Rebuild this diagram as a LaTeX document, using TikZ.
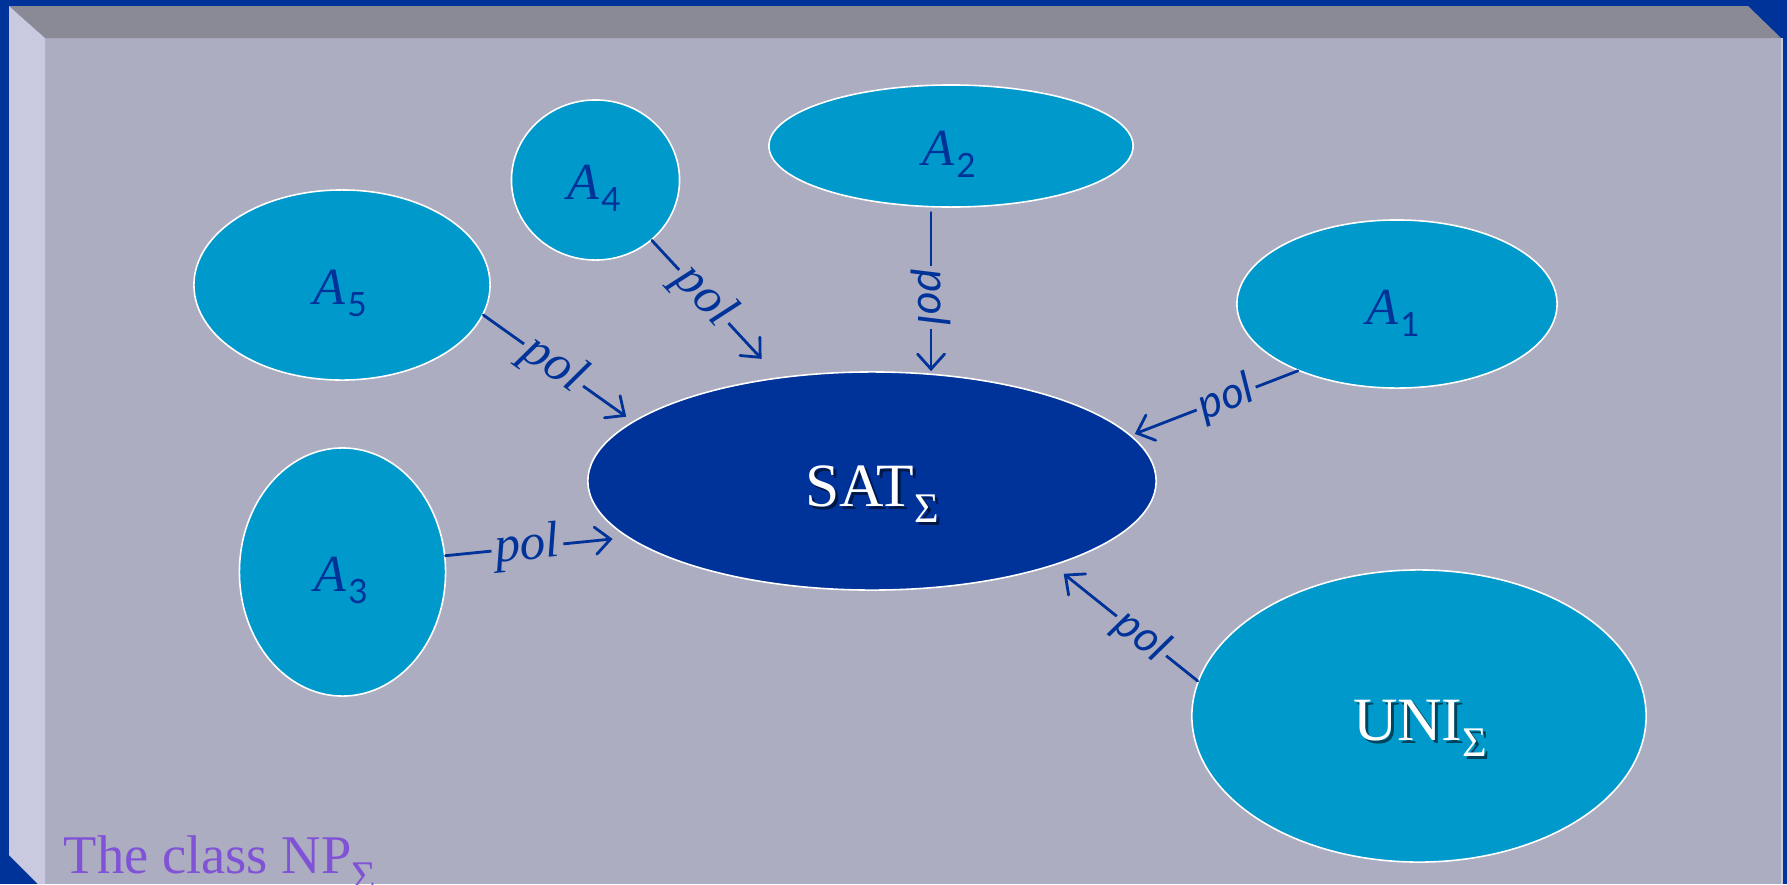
\documentclass[tikz,border=0pt]{standalone}
\usepackage{fontspec}
\setmainfont{Liberation Serif}
\newfontfamily\sansf{Lato}
\usetikzlibrary{shapes.geometric,arrows.meta}
\definecolor{bord}{RGB}{0,51,153}
\definecolor{panel}{RGB}{173,173,194}
\definecolor{topbev}{RGB}{138,137,150}
\definecolor{leftbev}{RGB}{201,201,224}
\definecolor{cyanfill}{RGB}{0,153,204}
\definecolor{satfill}{RGB}{0,51,153}
\definecolor{ink}{RGB}{0,51,153}
\definecolor{purp}{RGB}{128,82,214}
\newcommand{\Alab}[1]{{\itshape A}\kern0.6pt\raisebox{-0.12cm}{\sansf\fontsize{9.5pt}{10pt}\selectfont #1}}
\newcommand{\BigSub}[1]{#1\raisebox{-0.16cm}{\fontsize{12pt}{13pt}\selectfont Σ}}
\begin{document}
\begin{tikzpicture}[x=0.01cm,y=-0.01cm,
  ell/.style={ellipse, draw=white, line width=0.45pt, fill=cyanfill, inner sep=0pt},
  alab/.style={text=ink, inner sep=0pt, anchor=base, font=\fontsize{14.8pt}{16pt}\selectfont},
  big/.style={inner sep=0pt, anchor=base, font=\fontsize{17.5pt}{19pt}\selectfont},
  conn/.style={draw=ink, line width=0.8pt, line cap=round, -{Straight Barb[length=0.15cm,width=0.27cm,line cap=round]}},
  plab/.style={fill=panel, text=ink, inner sep=1pt, font=\fontsize{14.5pt}{16pt}\selectfont\itshape},
  plabs/.style={fill=panel, text=ink, inner sep=1pt, font=\sansf\itshape\fontsize{12.5pt}{14pt}\selectfont}
]
\useasboundingbox (0,0) rectangle (1787,884);
% frame
\fill[bord] (0,0) rectangle (1787,884);
\fill[panel] (45,38) rectangle (1781,884);
\fill[topbev] (9,6) -- (1748,6) -- (1781,38) -- (45,38) -- cycle;
\fill[leftbev] (9,6) -- (45,38) -- (45,884) -- (38,884) -- (9,855) -- cycle;
\fill[leftbev] (1781,38) rectangle (1783,884);

% ellipses
\node[ell, minimum width=2.96cm, minimum height=1.90cm] (A5) at (342,285) {};
\node[ell, minimum width=1.68cm, minimum height=1.60cm] (A4) at (595.5,180) {};
\node[ell, minimum width=3.64cm, minimum height=1.22cm] (A2) at (951,146) {};
\node[ell, minimum width=3.20cm, minimum height=1.68cm] (A1) at (1397,304) {};
\node[ell, minimum width=2.06cm, minimum height=2.48cm] (A3) at (342.5,572) {};
\node[ell, minimum width=4.54cm, minimum height=2.92cm] (UNI) at (1419,716) {};
\node[ell, fill=satfill, minimum width=5.68cm, minimum height=2.18cm] (SAT) at (872,481) {};

% labels
\node[alab] (lA5) at (340,304) {\Alab{5}};
\node[alab] (lA4) at (594,199) {\Alab{4}};
\node[alab] (lA2) at (949,165) {\Alab{2}};
\node[alab] (lA1) at (1393,324) {\Alab{1}};
\node[alab] (lA3) at (341,591) {\Alab{3}};

\node[big, text=black, opacity=0.55] (SATsh) at (875,509) {\BigSub{SAT}};
\node[big, text=white] (SATt) at (872,506) {\BigSub{SAT}};
\node[big, text=black, opacity=0.55] (UNIsh) at (1423,743) {\BigSub{UNI}};
\node[big, text=white] (UNIt) at (1420,740) {\BigSub{UNI}};

\node[inner sep=0pt, anchor=base west, text=purp, font=\fontsize{15.5pt}{17pt}\selectfont] (cls) at (63,873) {The class NP\raisebox{-0.17cm}{\fontsize{12pt}{13pt}\selectfont Σ}};

% connectors
\draw[conn, shorten >=0.08cm] (A5.-12) -- node[plab, sloped, pos=0.47] (p5) {pol} (SAT.166);
\draw[conn, shorten >=0.25cm] (A4.-47) -- node[plab, sloped, pos=0.41] (p4) {pol} (SAT.132);
\draw[conn, shorten <=0.05cm] (A2.-108) -- node[plabs, rotate=-90, pos=0.55] (p2) {pol} (A2.-108 |- SAT.north);
\draw[conn, shorten >=0.04cm] (A1.-146.6) -- node[plabs, sloped, pos=0.43] (p1) {pol} (SAT.10.4);
\draw[conn, shorten >=0.13cm] (UNI.171.2) -- node[plabs, sloped, pos=0.39] (pu) {pol} (SAT.-25.6);
\draw[conn, shorten >=0.15cm] (A3.9.7) -- node[plab, sloped, pos=0.45] (p3) {pol} (SAT.193);
\end{tikzpicture}
\end{document}
